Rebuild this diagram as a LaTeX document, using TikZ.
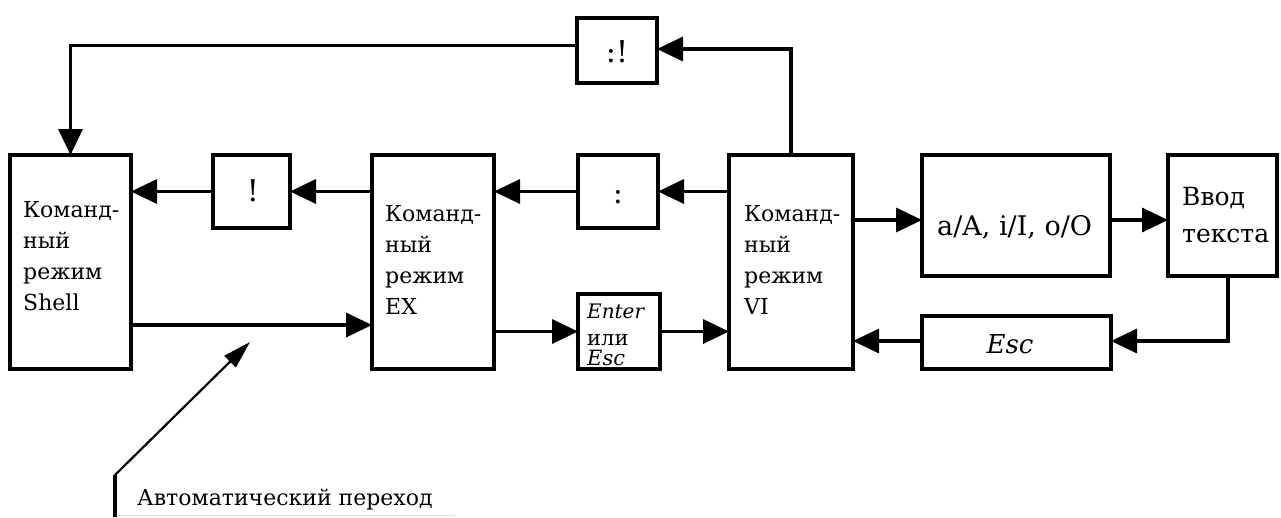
\documentclass[tikz,border=0pt]{standalone}
\usepackage{fontspec}
\setmainfont{DejaVu Serif}
\usetikzlibrary{arrows.meta}
\begin{document}
\begin{tikzpicture}[x=1pt,y=-1pt,
  box/.style={draw, line width=3.5pt, inner sep=0pt, outer sep=0pt},
  arr/.style={line width=3.5pt, -{Triangle[length=26pt,width=24pt]}},
  ln/.style={line width=3.5pt},
  lbl/.style={anchor=base west, inner sep=0pt, font=\fontsize{22}{28}\selectfont},
  ctr/.style={anchor=base, inner sep=0pt, font=\fontsize{30}{34}\selectfont},
  sml/.style={anchor=base west, inner sep=0pt, font=\fontsize{20}{24}\selectfont}]
\useasboundingbox (0,0) rectangle (1281,517);

% boxes
\node[box, minimum width=121pt, minimum height=214pt] (shell) at (70.5,262) {};
\node[box, minimum width=122pt, minimum height=214pt] (ex) at (433,262) {};
\node[box, minimum width=124pt, minimum height=214pt] (vi) at (791,262) {};
\node[box, minimum width=77pt, minimum height=73pt] (bang) at (251.5,191.5) {};
\node[box, minimum width=80pt, minimum height=73pt] (colon) at (618,191.5) {};
\node[box, minimum width=80pt, minimum height=65pt] (cb) at (617,50.5) {};
\node[box, minimum width=188pt, minimum height=121pt] (aa) at (1016,215.5) {};
\node[box, minimum width=109pt, minimum height=121pt] (vvod) at (1222.5,215.5) {};
\node[box, minimum width=189pt, minimum height=53pt] (esc) at (1016.5,342.5) {};
\node[box, minimum width=82pt, minimum height=75pt] (enter) at (619,331.5) {};

% texts
\node[lbl] (s1) at (23,217) {Команд-};
\node[lbl] (s2) at (23,248) {ный};
\node[lbl] (s3) at (23,279) {режим};
\node[lbl] (s4) at (23,310) {Shell};

\node[lbl] (e1) at (385,221) {Команд-};
\node[lbl] (e2) at (385,252) {ный};
\node[lbl] (e3) at (385,283) {режим};
\node[lbl] (e4) at (385,314) {EX};

\node[lbl] (v1) at (744,221) {Команд-};
\node[lbl] (v2) at (744,252) {ный};
\node[lbl] (v3) at (744,283) {режим};
\node[lbl] (v4) at (744,314) {VI};

\node[ctr] (bangt) at (253,201) {!};
\node[ctr] (colont) at (618,203) {:};
\node[ctr] (cbt) at (617,62) {:!};
\node[lbl, font=\fontsize{27}{30}\selectfont] (aat) at (937,235) {a/A, i/I, o/O};
\node[lbl, font=\fontsize{25}{30}\selectfont] (vv1) at (1182,205) {Ввод};
\node[lbl, font=\fontsize{25}{30}\selectfont] (vv2) at (1182,242) {текста};
\node[anchor=base, inner sep=0pt, font=\fontsize{26}{30}\selectfont\itshape] (esct) at (1010,353) {Esc};
\node[sml, font=\fontsize{20}{24}\selectfont\itshape] (en1) at (587,318) {Enter};
\node[sml, font=\fontsize{21}{24}\selectfont] (en2) at (587,345) {или};
\node[sml, font=\fontsize{21}{24}\selectfont\itshape] (en3) at (587,365) {Esc};
\node[lbl, font=\fontsize{22}{26}\selectfont] (autot) at (137,505) {Автоматический переход};

% connectors
\draw[arr] (vi.west |- colon.east) -- (colon.east);
\draw[arr] (colon.west) -- (ex.east |- colon.west);
\draw[arr] (ex.west |- bang.east) -- (bang.east);
\draw[arr] (bang.west) -- (shell.east |- bang.west);
\draw[arr] (vi.north) |- ([yshift=1.5pt]cb.east);
\draw[arr] ([yshift=5pt]cb.west) -| (shell.north);
\draw[arr] ([yshift=-63pt]shell.east) -- ([yshift=-63pt]shell.east -| ex.west);
\draw[arr] (ex.east |- enter.west) -- (enter.west);
\draw[arr] (enter.east) -- (vi.west |- enter.east);
\draw[arr] ([yshift=-4.5pt]aa.west -| vi.east) -- ([yshift=-4.5pt]aa.west);
\draw[arr] ([yshift=-4.5pt]aa.east) -- ([yshift=-4.5pt]vvod.west);
\draw[arr] ([xshift=5.5pt]vvod.south) |- ([yshift=1.5pt]esc.east);
\draw[arr] ([yshift=1.5pt]esc.west) -- ([yshift=1.5pt]esc.west -| vi.east);

% automatic transition pointer
\coordinate (autoA) at (115,517);
\coordinate (autoB) at (115,475);
\coordinate (autoT) at (250,342);
\draw[ln] (autoA) -- (autoB);
\draw[line width=2.2pt, -{Triangle[length=28pt,width=16pt]}] (autoB) -- (autoT);
\coordinate (ulA) at (117,515.5);
\coordinate (ulB) at (455,515.5);
\draw[gray!25, line width=1pt] (ulA) -- (ulB);
\end{tikzpicture}
\end{document}
